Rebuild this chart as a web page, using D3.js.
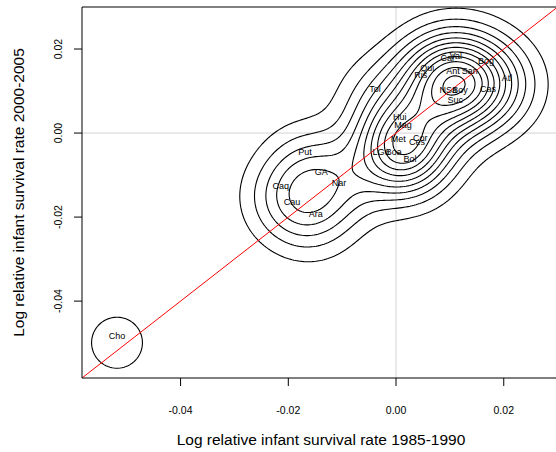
<!DOCTYPE html>
<html><head><meta charset="utf-8">
<script src="https://cdn.jsdelivr.net/npm/d3@7"></script>
<style>body{margin:0;background:#fff}svg{display:block}text{font-family:"Liberation Sans",Arial,sans-serif}</style>
</head><body><svg id="c" width="556" height="452"></svg>
<script>
// Region codes and their log relative infant survival rates
const codes = ["Tol","Qui","Ris","Cal","Val","Ant","San","Bog","Atl","Cas","NSa","Boy","Suc",
  "Hui","Mag","Met","Cor","Ces","LGu","Boa","Bol",
  "Put","GA","Caq","Cau","Nar","Ara","Cho"];
const rate8590 = [-0.0039,0.0058,0.0046,0.0095,0.0111,0.0106,0.0137,0.0167,0.0206,0.0171,0.0097,0.0119,0.0110,
  0.0007,0.0013,0.0004,0.0045,0.0039,-0.0028,-0.0004,0.0026,
  -0.0169,-0.0139,-0.0214,-0.0193,-0.0106,-0.0149,-0.0518];
const rate0005 = [0.0088,0.0138,0.0121,0.0162,0.0166,0.0131,0.0131,0.0154,0.0114,0.0088,0.0085,0.0085,0.0062,
  0.0021,0.0004,-0.0031,-0.0027,-0.0038,-0.0062,-0.0062,-0.0077,
  -0.0062,-0.0110,-0.0143,-0.0181,-0.0136,-0.0210,-0.0499];
const xTicks = [-0.04,-0.02,0.00,0.02];
const yTicks = [-0.04,-0.02,0.00,0.02];
const xDomain = [-0.0583,0.0297], yDomain = [-0.0583,0.0300];
// kernel standard deviations (data units) and number of contour levels
const bwX = 0.0056, bwY = 0.0072, nLevels = 12;

const W=556,H=452, L=82, R=556, T=7, B=378;
const svg = d3.select("#c");
const x = d3.scaleLinear().domain(xDomain).range([L,R]);
const y = d3.scaleLinear().domain(yDomain).range([B,T]);
const pts = codes.map((c,i)=>({c, x:rate8590[i], y:rate0005[i]}));

svg.append("clipPath").attr("id","clip").append("rect").attr("x",L).attr("y",T).attr("width",R-L+2).attr("height",B-T);
const plot = svg.append("g").attr("clip-path","url(#clip)");

// grid lines at zero
plot.append("line").attr("x1",x(0)).attr("x2",x(0)).attr("y1",T).attr("y2",B).attr("stroke","#d3d3d3").attr("stroke-width",1);
plot.append("line").attr("x1",L).attr("x2",R).attr("y1",y(0)).attr("y2",y(0)).attr("stroke","#d3d3d3").attr("stroke-width",1);

// 2-D Gaussian kernel density on a grid, contoured with d3.contours
const cell=2, gx0=L-80, gy0=T-80, nx=Math.ceil((R-L+160)/cell), ny=Math.ceil((B-T+160)/cell);
const sx = Math.abs(x(bwX)-x(0)), sy = Math.abs(y(0)-y(bwY));
const P = pts.map(d=>[x(d.x), y(d.y)]);
const grid = new Float64Array(nx*ny);
for (let j=0;j<ny;j++){ const py=gy0+j*cell;
  for (let i=0;i<nx;i++){ const px=gx0+i*cell; let s=0;
    for (const [qx,qy] of P){ const dx=(px-qx)/sx, dy=(py-qy)/sy; s+=Math.exp(-0.5*(dx*dx+dy*dy)); }
    grid[j*nx+i]=s; } }
const zmax = d3.max(grid);
const levels = d3.range(1, nLevels+1).map(i=>i*zmax/(nLevels+0.4));
const cont = d3.contours().size([nx,ny]).thresholds(levels)(grid);
const back = d3.geoTransform({point(u,v){ this.stream.point(gx0+(u-0.5)*cell, gy0+(v-0.5)*cell); }});
plot.append("g").selectAll("path").data(cont).join("path")
  .attr("d",d3.geoPath(back)).attr("fill","none").attr("stroke","#000").attr("stroke-width",1.1);

// identity line
const lo=Math.min(xDomain[0],yDomain[0]), hi=Math.max(xDomain[1],yDomain[1]);
plot.append("line").attr("x1",x(lo)).attr("y1",y(lo)).attr("x2",x(hi)).attr("y2",y(hi)).attr("stroke","#ff0000").attr("stroke-width",1);

// labels, placed just above each point
plot.selectAll("text.lab").data(pts).join("text").attr("class","lab")
  .attr("x",d=>x(d.x)).attr("y",d=>y(d.y)-7).attr("dy","0.35em")
  .attr("text-anchor","middle").attr("font-size",9).attr("fill","#000").text(d=>d.c);

// frame (left, top, bottom)
svg.append("path").attr("d",`M${R+2},${T}H${L}V${B}H${R+2}`).attr("fill","none").attr("stroke","#000").attr("stroke-width",1);

// axes
const fmt = t=>d3.format(".2f")(t).replace("\u2212","-");
xTicks.forEach(t=>{
  svg.append("line").attr("x1",x(t)).attr("x2",x(t)).attr("y1",B).attr("y2",B+8).attr("stroke","#000");
  svg.append("text").attr("x",x(t)).attr("y",414).attr("text-anchor","middle").attr("font-size",10.5).text(fmt(t));
});
yTicks.forEach(t=>{
  svg.append("line").attr("x1",L-8).attr("x2",L).attr("y1",y(t)).attr("y2",y(t)).attr("stroke","#000");
  svg.append("text").attr("transform",`translate(62,${y(t)}) rotate(-90)`).attr("text-anchor","middle").attr("font-size",10.5).text(fmt(t));
});
svg.append("text").attr("x",321).attr("y",445).attr("text-anchor","middle").attr("font-size",15.5).text("Log relative infant survival rate 1985-1990");
svg.append("text").attr("transform",`translate(24,${(T+B)/2}) rotate(-90)`).attr("text-anchor","middle").attr("font-size",15.5).text("Log relative infant survival rate 2000-2005");
</script></body></html>
